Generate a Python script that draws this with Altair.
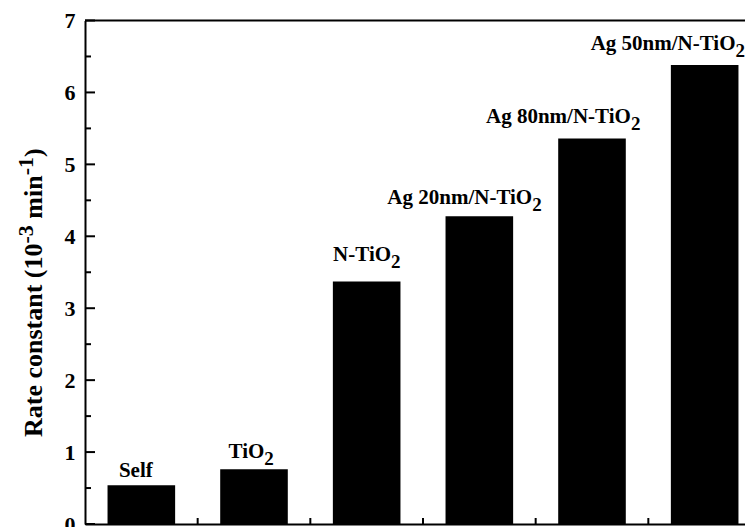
import altair as alt
import pandas as pd

# ---------------- data ----------------
categories = ["Self", "TiO2", "N-TiO2", "Ag 20nm/N-TiO2", "Ag 80nm/N-TiO2", "Ag 50nm/N-TiO2"]
values = [0.54, 0.76, 3.37, 4.28, 5.36, 6.38]
label_main = ["Self", "TiO", "N-TiO", "Ag 20nm/N-TiO", "Ag 80nm/N-TiO", "Ag 50nm/N-TiO"]
label_sub = ["", "2", "2", "2", "2", "2"]
major_ticks = [0, 1, 2, 3, 4, 5, 6, 7]
minor_ticks = [0.5, 1.5, 2.5, 3.5, 4.5, 5.5, 6.5]

# ---------------- style ----------------
FONT = "Liberation Serif"
W, H = 660, 503.5
BAND_RANGE = 676
PAD_IN, PAD_OUT = 0.4, 0.2
LABEL_SIZE, SUB_SIZE, SUB_DROP = 21, 19, 7
label_nudge_x = [-5.5, -3, 0, -15, -29, -37]
label_gap = [8, 11, 21, 12, 15, 15]

# Times-Bold glyph widths (per 1000 em), matching Liberation Serif Bold
TW = {"S": 556, "e": 444, "l": 278, "f": 333, "T": 667, "i": 278, "O": 778, "N": 722,
      "-": 333, "A": 722, "g": 500, " ": 250, "n": 556, "m": 833, "/": 278, "R": 722,
      "a": 500, "t": 333, "c": 444, "o": 500, "s": 389, "(": 333, ")": 333}


def tw(s, size):
    return sum(TW.get(ch, 500) for ch in s) * size / 1000.0


df = pd.DataFrame({"cat": categories, "value": values, "main": label_main, "sub": label_sub})

xscale = alt.Scale(domain=categories, range=[0, BAND_RANGE], paddingInner=PAD_IN, paddingOuter=PAD_OUT)
x_axis = alt.Axis(labels=False, ticks=False, title=None, domain=True, grid=False)
yscale = alt.Scale(domain=[0, 7], nice=False, zero=True)
y_axis = alt.Axis(values=major_ticks, ticks=False, tickSize=0, labelPadding=10,
                  title=None, grid=False, domain=True, format="d")


def X(**kw):
    return alt.X("cat:N", scale=xscale, axis=x_axis, sort=categories, **kw)


def Y():
    return alt.Y("value:Q", scale=yscale, axis=y_axis)


base = alt.Chart(df)

bars = base.mark_bar(color="black").encode(x=X(), y=Y())

label_layers = []
for c, m, s, nx, g in zip(categories, label_main, label_sub, label_nudge_x, label_gap):
    mw, sw = tw(m, LABEL_SIZE), tw(s, SUB_SIZE)
    off = nx + (mw + sw) / 2 - sw
    sel = base.transform_filter(alt.datum.cat == c)
    label_layers.append(sel.mark_text(
        font=FONT, fontWeight="bold", fontSize=LABEL_SIZE, align="right",
        baseline="alphabetic", color="black", dx=off, dy=-g).encode(
        x=X(), y=Y(), text="main:N"))
    if s:
        label_layers.append(sel.mark_text(
            font=FONT, fontWeight="bold", fontSize=SUB_SIZE, align="left",
            baseline="alphabetic", color="black", dx=off, dy=-g + SUB_DROP).encode(
            x=X(), y=Y(), text="sub:N"))

# inward y ticks
step = BAND_RANGE / (len(categories) - PAD_IN + 2 * PAD_OUT)
maj = alt.Chart(pd.DataFrame({"value": major_ticks})).mark_rule(color="black", strokeWidth=2).encode(
    y=Y(), x=alt.value(0), x2=alt.value(10))
mino = alt.Chart(pd.DataFrame({"value": minor_ticks})).mark_rule(color="black", strokeWidth=2).encode(
    y=Y(), x=alt.value(0), x2=alt.value(6))

# inward x ticks between bars
xt = alt.Chart(pd.DataFrame({"cat": categories[1:]})).mark_rule(
    color="black", strokeWidth=2, xOffset=-step * PAD_IN / 2).encode(
    x=X(bandPosition=0), y=alt.value(H), y2=alt.value(H - 6))

# top frame line
topline = alt.Chart(pd.DataFrame({"value": [7]})).mark_rule(color="black", strokeWidth=2).encode(
    y=Y(), x=alt.value(0), x2=alt.value(W))

# composed y-axis title with superscripts
TITLE_SIZE, SUP_SIZE, RAISE = 26, 22, 9
pieces = [("Rate constant (10", TITLE_SIZE, 0, 0.0), ("-3", SUP_SIZE, RAISE, 0.0),
          ("min", TITLE_SIZE, 0, tw(" ", TITLE_SIZE)), ("-1", SUP_SIZE, RAISE, 0.0),
          (")", TITLE_SIZE, 0, 0.0)]
title_layers = []
y0 = 437 - 20.5
xb = 42 - 85
cum = 0.0
for txt, sz, r, lead in pieces:
    cum += lead
    title_layers.append(
        alt.Chart(pd.DataFrame({"t": [txt]})).mark_text(
            font=FONT, fontWeight="bold", fontSize=sz, angle=270, align="left",
            baseline="alphabetic", color="black").encode(
            text="t:N", x=alt.value(xb - r), y=alt.value(y0 - cum)))
    cum += tw(txt, sz)

chart = alt.layer(bars, maj, mino, xt, topline, *label_layers, *title_layers).properties(
    width=W, height=H,
    autosize=alt.AutoSizeParams(type="none"),
    padding={"left": 77, "top": 12.5, "right": 0, "bottom": 5},
).configure_view(stroke=None).configure_axis(
    labelFont=FONT, labelFontWeight="bold", labelFontSize=22, labelColor="black",
    domainColor="black", domainWidth=2,
)

chart.save("out.html", embed_options={"renderer": "svg", "actions": False})
